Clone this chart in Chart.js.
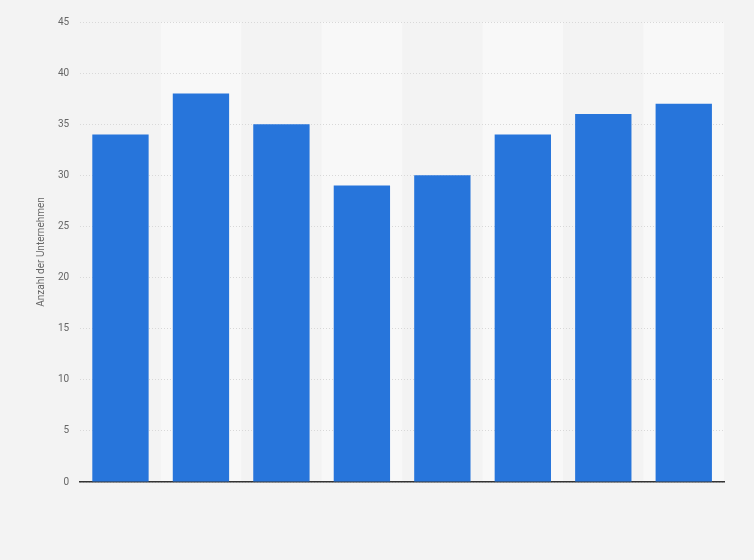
<!DOCTYPE html>
<html><head><meta charset="utf-8">
<script src="https://cdn.jsdelivr.net/npm/chart.js@4/dist/chart.umd.min.js"></script>
<style>html,body{margin:0;padding:0;background:#f3f3f3;}#wrap{width:754px;height:560px;}</style>
</head><body><div id="wrap"><canvas id="c" width="754" height="560"></canvas></div>
<script>
const categories = ["1","2","3","4","5","6","7","8"];
const values = [34, 38, 35, 29, 30, 34, 36, 37];
const yTicks = [0,5,10,15,20,25,30,35,40,45];
const yTitle = "Anzahl der Unternehmen";

const stripes = {
  id: 'stripes',
  beforeDraw(chart) {
    const {ctx, chartArea, scales} = chart;
    ctx.save();
    ctx.fillStyle = '#f3f3f3';
    ctx.fillRect(0, 0, chart.width, chart.height);
    const x = scales.x;
    ctx.fillStyle = '#f8f8f8';
    const half = (x.getPixelForValue(1) - x.getPixelForValue(0)) / 2;
    for (let i = 1; i < categories.length; i += 2) {
      const c = x.getPixelForValue(i);
      ctx.fillRect(c - half, chartArea.top, half * 2, chartArea.bottom - chartArea.top);
    }
    ctx.restore();
  }
};

new Chart(document.getElementById('c'), {
  type: 'bar',
  data: { labels: categories, datasets: [{ data: values, backgroundColor: '#2775db', borderWidth: 0, barPercentage: 0.7, categoryPercentage: 1.0 }] },
  options: {
    responsive: false, animation: false,
    layout: { padding: { top: 22, right: 30, bottom: 78, left: 35 } },
    plugins: { legend: { display: false }, tooltip: { enabled: false } },
    scales: {
      x: {
        ticks: { display: false },
        grid: { display: false, drawTicks: false },
        border: { display: true, color: '#333', width: 1.5 }
      },
      y: {
        min: 0, max: 45,
        afterBuildTicks(s) { s.ticks = yTicks.map(v => ({ value: v })); },
        ticks: { color: '#666', font: { family: 'Roboto, Arial, sans-serif', size: 10 }, padding: 11 },
        grid: { color: '#d8d8d8', drawTicks: false },
        border: { display: false, dash: [1, 2] },
        title: { display: true, text: yTitle, color: '#666', font: { family: 'Roboto, Arial, sans-serif', size: 10 }, padding: 0 }
      }
    }
  },
  plugins: [stripes]
});
</script></body></html>
